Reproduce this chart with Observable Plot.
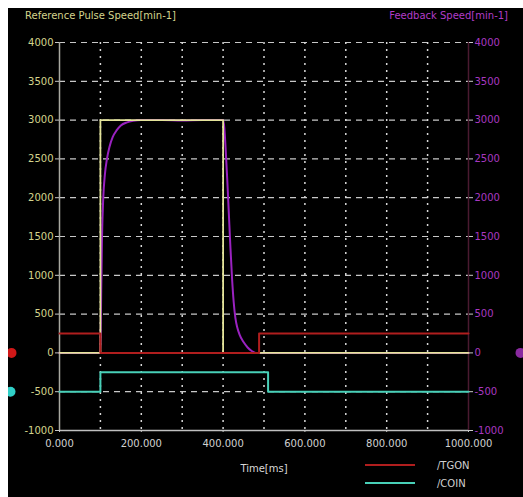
<!DOCTYPE html>
<html>
<head>
<meta charset="utf-8">
<script src="https://cdn.jsdelivr.net/npm/d3@7"></script>
<script src="https://cdn.jsdelivr.net/npm/@observablehq/plot@0.6"></script>
<style>
  html, body { margin: 0; padding: 0; background: #ffffff; overflow: hidden; }
  body { padding: 8px 0 0 8px; }
  #scope { position: relative; width: 515px; height: 489px; background: #000; overflow: hidden;
           font-family: "DejaVu Sans", sans-serif; font-size: 10px; }
  #scope svg { position: absolute; left: 0; top: 24px; z-index: 0; }
  .title { position: absolute; top: 2px; line-height: 12px; white-space: nowrap; z-index: 1; }
  .legend-row { position: absolute; left: 357px; height: 12px; display: flex; align-items: center; color: #d0d0d0; z-index: 1; }
  .legend-row span.swatch { display: inline-block; width: 50px; height: 2px; margin-right: 22px; }
</style>
</head>
<body>
<div id="scope">
  <div class="title" style="left:17px;color:#d4d48c;">Reference Pulse Speed[min-1]</div>
  <div class="title" style="right:15px;color:#b23cc8;">Feedback Speed[min-1]</div>
  <div class="legend-row" style="top:451px;"><span class="swatch" style="background:#b01e1e;"></span>/TGON</div>
  <div class="legend-row" style="top:469px;"><span class="swatch" style="background:#48d0b8;"></span>/COIN</div>
</div>
<script>
// Axis ticks
const yTicks = [-1000, -500, 0, 500, 1000, 1500, 2000, 2500, 3000, 3500, 4000];
const xTicks = [0, 200, 400, 600, 800, 1000];
const xGrid = [100, 200, 300, 400, 500, 600, 700, 800, 900];

// Reference pulse speed [min-1] vs time [ms]
const refTime  = [0, 100, 100, 400, 400, 1000];
const refSpeed = [0, 0, 3000, 3000, 0, 0];

// Feedback speed [min-1] vs time [ms]
const fbTime  = [0, 100, 102, 104, 107, 111, 116, 122, 130, 140, 150, 165, 180, 200, 250, 300, 350, 400,
                 403, 406, 410, 414, 418, 422, 426, 430, 435, 440, 450, 460, 470, 480, 500, 1000];
const fbSpeed = [0, 0, 800, 1500, 2000, 2300, 2500, 2650, 2780, 2870, 2930, 2970, 2990, 3000, 3000, 2995, 3000, 3000,
                 2900, 2650, 2250, 1800, 1350, 950, 650, 450, 320, 240, 140, 70, 25, 0, 0, 0];

// /TGON trace (drawn at 0 / 250)
const tgonTime  = [0, 100, 100, 488, 488, 1000];
const tgonLevel = [250, 250, 0, 0, 250, 250];

// /COIN trace (drawn at -500 / -250)
const coinTime  = [0, 100, 100, 510, 510, 1000];
const coinLevel = [-500, -500, -250, -250, -500, -500];

const toRows = (xs, ys) => xs.map((t, i) => ({t, v: ys[i]}));
const ref = toRows(refTime, refSpeed);
const fb = toRows(fbTime, fbSpeed);
const tgon = toRows(tgonTime, tgonLevel);
const coin = toRows(coinTime, coinLevel);

const chart = Plot.plot({
  width: 515,
  height: 465,
  marginLeft: 51,
  marginRight: 55,
  marginTop: 10,
  marginBottom: 67,
  style: {background: "black", fontFamily: "DejaVu Sans, sans-serif", fontSize: "10px", overflow: "visible"},
  x: {domain: [0, 1000]},
  y: {domain: [-1000, 4000]},
  marks: [
    // grid
    Plot.ruleY(yTicks.filter(d => d > -1000), {y: d => d, stroke: "#c8c8c8", strokeWidth: 1.2, strokeDasharray: "6,5"}),
    Plot.ruleX(xGrid, {x: d => d, stroke: "#d8d8d8", strokeWidth: 1.5, strokeDasharray: "2,5"}),
    // frame lines
    Plot.ruleX([0], {stroke: "#a8a8a0", strokeWidth: 1.5}),
    Plot.ruleX([1000], {stroke: "#4a1a30", strokeWidth: 1.5}),
    Plot.ruleY([-1000], {stroke: "#c0c0c0", strokeWidth: 1.5}),
    // axes
    Plot.axisY(yTicks, {anchor: "left", tickSize: 4, tickPadding: 2, stroke: "#c8c8c8", fill: "#d4d48c", tickFormat: d => String(d), label: null}),
    Plot.axisY(yTicks, {anchor: "right", tickSize: 4, tickPadding: 2, stroke: "#c8c8c8", fill: "#a838c0", tickFormat: d => String(d), label: null}),
    Plot.axisX(xTicks, {anchor: "bottom", tickSize: 2, tickPadding: 7, stroke: "#c8c8c8", fill: "#d0d0d0", tickFormat: d3.format(".3f"), label: null}),
    Plot.text(["Time[ms]"], {x: 500, frameAnchor: "bottom", dy: 41, fill: "#d8d8d8", fontSize: 10}),
    // traces
    Plot.line(fb, {x: "t", y: "v", stroke: "#9a22c0", strokeWidth: 2, curve: "monotone-x"}),
    Plot.line(ref, {x: "t", y: "v", stroke: "#e4e49a", strokeWidth: 1.8}),
    Plot.line(tgon, {x: "t", y: "v", stroke: "#b01e1e", strokeWidth: 2}),
    Plot.line(coin, {x: "t", y: "v", stroke: "#48d0b8", strokeWidth: 2}),
    // channel offset markers
    Plot.dot([{t: 0, v: 0}], {x: "t", y: "v", dx: -48, r: 5, fill: "#d01818", stroke: null}),
    Plot.dot([{t: 0, v: -500}], {x: "t", y: "v", dx: -49, r: 5, fill: "#30d0c8", stroke: null}),
    Plot.dot([{t: 1000, v: 0}], {x: "t", y: "v", dx: 52, r: 5, fill: "#8a2aa0", stroke: null})
  ]
});

document.getElementById("scope").appendChild(chart);
</script>
</body>
</html>
